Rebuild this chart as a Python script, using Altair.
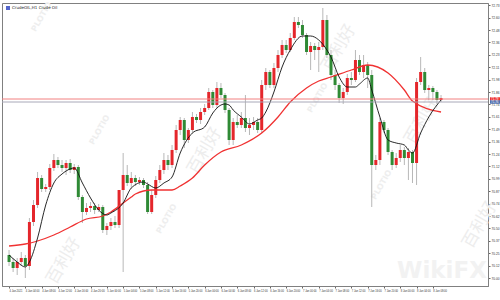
import json
import altair as alt
import pandas as pd

# ---------------- data ----------------
open_ = [70.23,70.16,70.10,70.16,70.20,70.12,70.56,70.73,71.00,70.89,
         70.91,71.10,71.18,71.13,71.10,71.15,71.08,71.11,70.81,70.66,
         70.70,70.72,70.68,70.71,70.48,70.52,70.56,70.53,70.88,71.03,
         70.95,71.00,70.96,70.98,70.93,70.66,70.83,70.98,71.08,71.18,
         71.13,71.28,71.48,71.58,71.38,71.48,71.61,71.58,71.66,71.70,
         71.86,71.73,71.90,71.83,71.68,71.38,71.56,71.53,71.60,71.50,
         71.53,71.56,71.48,71.93,72.06,71.93,72.10,72.23,72.33,72.28,
         72.40,72.56,72.53,72.43,72.26,72.32,72.28,72.31,72.58,72.23,
         72.03,71.93,71.80,71.86,72.00,71.98,72.18,72.06,72.13,72.03,
         71.13,71.18,71.56,71.48,71.26,71.13,71.20,71.28,71.20,71.26,
         71.15,71.96,72.06,71.88,71.90,71.86,71.78]
close = [70.16,70.10,70.16,70.20,70.12,70.56,70.73,71.00,70.89,70.91,
         71.10,71.18,71.13,71.10,71.15,71.08,71.11,70.81,70.66,70.70,
         70.72,70.68,70.71,70.48,70.52,70.56,70.53,70.88,71.03,70.95,
         71.00,70.96,70.98,70.93,70.66,70.83,70.98,71.08,71.18,71.13,
         71.28,71.48,71.58,71.38,71.48,71.61,71.58,71.66,71.70,71.86,
         71.73,71.90,71.83,71.68,71.38,71.56,71.53,71.60,71.50,71.53,
         71.56,71.48,71.93,72.06,71.93,72.10,72.23,72.33,72.28,72.40,
         72.56,72.53,72.43,72.26,72.32,72.28,72.31,72.58,72.23,72.03,
         71.93,71.80,71.86,72.00,71.98,72.18,72.06,72.13,72.03,71.13,
         71.18,71.56,71.48,71.26,71.13,71.20,71.28,71.20,71.26,71.15,
         71.96,72.06,71.88,71.90,71.86,71.78,71.80]
high = [70.28,70.20,70.20,70.26,70.23,70.60,70.78,71.06,71.03,70.94,
        71.14,71.24,71.21,71.18,71.18,71.19,71.14,71.13,70.83,70.75,
        70.76,70.75,70.74,70.73,70.55,70.60,70.62,70.88,71.25,71.13,
        71.06,71.03,71.01,71.00,70.96,70.88,71.02,71.13,71.25,71.23,
        71.33,71.53,71.61,71.60,71.50,71.66,71.64,71.70,71.74,71.90,
        71.88,71.96,71.95,71.85,71.70,71.60,71.63,71.66,71.83,71.60,
        71.61,71.60,71.98,72.10,72.08,72.15,72.28,72.38,72.38,72.45,
        72.61,72.61,72.58,72.45,72.36,72.35,72.36,72.70,72.63,72.28,
        72.08,71.95,71.90,72.04,72.06,72.28,72.23,72.23,72.16,72.08,
        71.23,71.60,71.58,71.50,71.28,71.25,71.33,71.31,71.30,71.28,
        72.00,72.21,72.10,71.93,71.92,71.88,71.83]
low = [70.12,70.06,70.03,70.12,70.00,70.08,70.52,70.70,70.86,70.86,
       70.88,71.07,71.10,71.06,71.03,71.05,71.04,70.78,70.55,70.63,
       70.66,70.64,70.66,70.45,70.43,70.48,70.50,70.50,70.06,70.92,
       70.90,70.92,70.93,70.90,70.64,70.64,70.80,70.95,71.04,71.08,
       71.10,71.25,71.43,71.30,71.35,71.45,71.55,71.54,71.63,71.68,
       71.70,71.70,71.80,71.65,71.33,71.33,71.50,71.50,71.46,71.43,
       71.48,71.45,71.45,71.88,71.90,71.90,72.06,72.20,72.25,72.26,
       72.38,72.50,72.40,72.23,72.08,72.18,72.06,72.28,72.20,71.98,
       71.88,71.75,71.74,71.83,71.93,71.96,72.03,72.00,71.90,70.71,
       71.08,71.13,71.45,71.23,71.08,71.10,71.16,71.13,70.98,70.95,
       70.93,71.93,71.85,71.78,71.78,71.74,71.76]

# slow moving average (red) at sample bars
ma_slow_bar = [0,4,7,11,15,19,23,25,28,30,31,35,40,42,45,48,52,57,62,66,69,73,76,79,84,88,93,97,99,106]
ma_slow_val = [70.32,70.34,70.37,70.43,70.51,70.59,70.62,70.66,70.75,70.81,70.84,70.88,70.88,70.92,71.00,
               71.13,71.26,71.33,71.45,71.61,71.76,71.90,71.97,72.01,72.08,72.13,72.05,71.88,71.77,71.66]
# fast moving average (black)
ma_fast_bar = [0,2,4,5,7,9,11,13,14,16,18,20,22,24,25,28,30,33,34,36,38,40,42,45,48,50,52,53,54,55,
               57,59,61,62,63,65,67,69,72,74,76,78,79,81,83,85,86,88,89,91,93,95,97,98,99,101,103,106]
ma_fast_val = [70.23,70.16,70.11,70.16,70.40,70.73,70.95,71.04,71.07,71.10,70.95,70.80,70.68,70.63,70.65,
               70.75,70.90,70.96,70.94,70.90,70.95,71.01,71.25,71.45,71.51,71.65,71.73,71.74,71.73,71.68,
               71.61,71.54,71.58,71.60,71.66,71.86,72.11,72.28,72.42,72.42,72.38,72.28,72.21,72.01,71.91,
               71.91,71.94,72.00,71.88,71.61,71.38,71.35,71.33,71.28,71.25,71.45,71.61,71.78]

ask_price = 71.79
bid_price = 71.76

price_ticks = [70.000,70.124,70.248,70.372,70.496,70.620,70.744,70.868,70.992,71.116,71.240,71.364,
               71.488,71.612,71.736,71.860,71.984,72.108,72.232,72.356,72.480,72.604,72.728]
time_tick_bars = [0,4,8,12,16,20,24,28,32,36,40,44,48,52,56,60,64,68,72,76,80,84,88,92,96,100,104]
time_tick_labels = ["4 Jan 2021","4 Jan 04:00","4 Jan 08:00","4 Jan 12:00","4 Jan 16:00","4 Jan 20:00",
                    "5 Jan 00:00","5 Jan 04:00","5 Jan 08:00","5 Jan 12:00","5 Jan 16:00","5 Jan 20:00",
                    "6 Jan 00:00","6 Jan 04:00","6 Jan 08:00","6 Jan 12:00","6 Jan 16:00","6 Jan 20:00",
                    "7 Jan 00:00","7 Jan 04:00","7 Jan 08:00","7 Jan 12:00","7 Jan 16:00","7 Jan 20:00",
                    "8 Jan 00:00","8 Jan 04:00","8 Jan 08:00"]
title_text = "CrudeOIL,H1  Crude Oil"
watermark_cn = "百利好"
watermark_en = "PLOTIO"
watermark_big = "WikiFX"

# ---------------- build ----------------
n = len(open_)
candles = pd.DataFrame({
    "bar": list(range(n)), "open": open_, "close": close, "high": high, "low": low,
    "dir": ["up" if c >= o else "down" for o, c in zip(open_, close)],
})
slow = pd.DataFrame({"bar": ma_slow_bar, "ma": ma_slow_val})
fast = pd.DataFrame({"bar": ma_fast_bar, "ma": ma_fast_val})
ask_df = pd.DataFrame({"price": [ask_price], "label": [f"{ask_price:.2f}"]})
bid_df = pd.DataFrame({"price": [bid_price], "label": [f"{bid_price:.2f}"]})
one = pd.DataFrame({"t": [title_text], "cn": [watermark_cn], "en": [watermark_en], "big": [watermark_big]})

FONT = "DejaVu Sans"
AXFONT = "Liberation Sans"
xs = alt.Scale(domain=[-0.5, 116.3], nice=False, zero=False)
ys = alt.Scale(domain=[69.92, 72.75], nice=False, zero=False)

label_expr = json.dumps(time_tick_labels) + "[datum.value / 4]"

x_axis = alt.Axis(values=time_tick_bars, labelExpr=label_expr, title=None, grid=False,
                  labelFontSize=2.6, labelFont=AXFONT, labelColor="#333333", labelAlign="left",
                  labelPadding=2, tickSize=2, tickColor="#666666", domainColor="#808080",
                  labelOverlap=False, labelBound=False, labelFlush=False, labelSeparation=0)
y_axis = alt.Axis(values=price_ticks, format=".2f", orient="right", title=None, grid=False,
                  labelFontSize=3.2, labelFont=AXFONT, labelColor="#333333", labelPadding=1,
                  tickSize=2, tickColor="#666666", domainColor="#808080",
                  labelOverlap=False, labelBound=False, labelFlush=False, labelSeparation=0)

X = lambda f: alt.X(f, scale=xs, axis=x_axis)
Y = lambda f: alt.Y(f, scale=ys, axis=y_axis)

# faint watermarks (background decoration)
wm_layers = []
for px, py in [(62, 258), (203, 148), (337, 45), (420, 118), (478, 222)]:
    wm_layers.append(alt.Chart(one).mark_text(fontSize=17, font="Noto Sans CJK SC", color="#ededed",
                                              angle=300, align="center", baseline="middle").encode(
        x=alt.value(px), y=alt.value(py), text="cn:N"))
for px, py in [(98, 127), (165, 216), (316, 95), (380, 182), (40, 14)]:
    wm_layers.append(alt.Chart(one).mark_text(fontSize=8, font=FONT, fontWeight="bold", color="#eeeeee",
                                              angle=300, align="center", baseline="middle").encode(
        x=alt.value(px), y=alt.value(py), text="en:N"))
wm_layers.append(alt.Chart(one).mark_text(fontSize=23, font=FONT, fontWeight="bold", color="#f2f2f2",
                                          align="center", baseline="middle").encode(
    x=alt.value(440), y=alt.value(268), text="big:N"))

base = alt.Chart(candles)

wicks = base.mark_rule(color="#b8b8b8", strokeWidth=1).encode(
    x=X("bar:Q"), y=Y("low:Q"), y2="high:Q")
bodies = base.mark_bar(size=3).encode(
    x=X("bar:Q"), y=Y("open:Q"), y2="close:Q",
    color=alt.Color("dir:N", scale=alt.Scale(domain=["up", "down"], range=["#e4262b", "#2f8a35"]), legend=None),
)

slow_line = alt.Chart(slow).mark_line(color="#f03232", strokeWidth=1.3, interpolate="monotone").encode(
    x=X("bar:Q"), y=Y("ma:Q"))
fast_line = alt.Chart(fast).mark_line(color="#111111", strokeWidth=0.9, interpolate="monotone").encode(
    x=X("bar:Q"), y=Y("ma:Q"))

ask_rule = alt.Chart(ask_df).mark_rule(color="#f28080", strokeWidth=1).encode(y=Y("price:Q"))
bid_rule = alt.Chart(bid_df).mark_rule(color="#a8a8b8", strokeWidth=1).encode(y=Y("price:Q"))
ask_box = alt.Chart(ask_df).mark_rect(height=3.5, color="#ee3030").encode(
    x=alt.value(488), x2=alt.value(500), y=Y("price:Q"))
bid_box = alt.Chart(bid_df).mark_rect(height=3.5, color="#5070b0").encode(
    x=alt.value(488), x2=alt.value(500), y=Y("price:Q"))
ask_text = alt.Chart(ask_df).mark_text(fontSize=3, font=AXFONT, color="white", align="left", baseline="middle").encode(
    x=alt.value(489), y=Y("price:Q"), text="label:N")
bid_text = alt.Chart(bid_df).mark_text(fontSize=3, font=AXFONT, color="white", align="left", baseline="middle").encode(
    x=alt.value(489), y=Y("price:Q"), text="label:N")

title = alt.Chart(one).mark_text(
    fontSize=4, font=FONT, color="#222222", align="left", baseline="top").encode(
    x=alt.value(10), y=alt.value(3), text="t:N")
icon = alt.Chart(one).mark_rect(color="#5566cc").encode(
    x=alt.value(4), x2=alt.value(8), y=alt.value(3), y2=alt.value(7))

chart = alt.layer(*wm_layers, wicks, bodies, slow_line, fast_line, ask_rule, bid_rule,
                  ask_box, bid_box, ask_text, bid_text, title, icon).properties(
    width=486, height=283,
    padding={"left": 2, "top": 3, "right": 12, "bottom": 14},
    autosize=alt.AutoSizeParams(type="none"),
    background="white",
).configure_view(stroke="#808080", strokeWidth=1).configure_axis(labelOverlap=False)

chart.save("out.html", embed_options={"renderer": "svg", "actions": False})
